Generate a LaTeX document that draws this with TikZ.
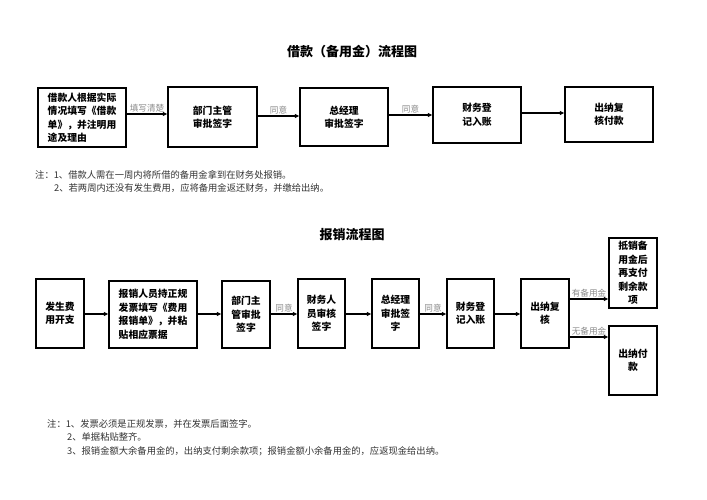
\documentclass[tikz,border=0pt]{standalone}
\usepackage{fontspec}
\setmainfont{Noto Sans CJK SC}
\newfontfamily\cjk{Noto Sans CJK SC}
\usetikzlibrary{arrows.meta}
\tikzset{
  box/.style={draw=black, line width=1.5pt, align=center, inner sep=1pt,
    font=\cjk\bfseries\fontsize{9.8}{13.5}\selectfont},
  arr/.style={line width=1.1pt, -{Triangle[length=4.5pt,width=4pt]}},
  lbl/.style={anchor=south, inner sep=1pt, text=black!45, font=\cjk\fontsize{8.6}{10}\selectfont},
  ttl/.style={font=\cjk\bfseries\fontsize{13}{15}\selectfont},
  note/.style={anchor=west, inner sep=0pt, text=black!80, font=\cjk\fontsize{9.3}{11}\selectfont}
}
\begin{document}
\begin{tikzpicture}[x=1pt,y=-1pt]
\useasboundingbox[fill=white] (0,0) rectangle (707,500);
% ---- title 1
\node[ttl] (t1) at (352,52) {借款（备用金）流程图};
% ---- top row
\node[box, minimum width=88pt, minimum height=59pt, align=left] (T1) at (82,117.5) {借款人根据实际\\情况填写《借款\\单》，并注明用\\途及理由};
\node[box, minimum width=89pt, minimum height=60pt] (T2) at (212.5,117) {部门主管\\审批签字};
\node[box, minimum width=88pt, minimum height=58pt] (T3) at (344,117) {总经理\\审批签字};
\node[box, minimum width=88pt, minimum height=56pt] (T4) at (477,115) {财务登\\记入账};
\node[box, minimum width=88pt, minimum height=55pt] (T5) at (609,114.5) {出纳复\\核付款};
\draw[arr] (T1.east |- 0,114) -- node[lbl]{填写清楚} (T2.west |- 0,114);
\draw[arr] (T2.east |- 0,116) -- node[lbl]{同意} (T3.west |- 0,116);
\draw[arr] (T3.east |- 0,115) -- node[lbl]{同意} (T4.west |- 0,115);
\draw[arr] (T4.east |- 0,113) -- (T5.west |- 0,113);
% ---- notes 1
\node[note] (n11) at (35,175) {注：1、借款人需在一周内将所借的备用金拿到在财务处报销。};
\node[note] (n12) at (54,188) {2、若两周内还没有发生费用，应将备用金返还财务，并缴给出纳。};
% ---- title 2
\node[ttl] (t2) at (352,235) {报销流程图};
% ---- bottom row
\node[box, minimum width=48pt, minimum height=69pt] (B1) at (60,313.5) {发生费\\用开支};
\node[box, minimum width=88pt, minimum height=67pt, align=left] (B2) at (153,314.5) {报销人员持正规\\发票填写《费用\\报销单》，并粘\\贴相应票据};
\node[box, minimum width=48pt, minimum height=67pt] (B3) at (246,314.5) {部门主\\管审批\\签字};
\node[box, minimum width=47pt, minimum height=69pt] (B4) at (321.5,313.5) {财务人\\员审核\\签字};
\node[box, minimum width=47pt, minimum height=69pt] (B5) at (395.5,313.5) {总经理\\审批签\\字};
\node[box, minimum width=47pt, minimum height=69pt] (B6) at (470.5,313.5) {财务登\\记入账};
\node[box, minimum width=48pt, minimum height=69pt] (B7) at (545,313.5) {出纳复\\核};
\node[box, minimum width=48pt, minimum height=70pt] (B8) at (633,273) {抵销备\\用金后\\再支付\\剩余款\\项};
\node[box, minimum width=48pt, minimum height=69pt] (B9) at (633,360.5) {出纳付\\款};
\draw[arr] (B1.east |- 0,314) -- (B2.west |- 0,314);
\draw[arr] (B2.east |- 0,314) -- (B3.west |- 0,314);
\draw[arr] (B3.east |- 0,314) -- node[lbl]{同意} (B4.west |- 0,314);
\draw[arr] (B4.east |- 0,314) -- (B5.west |- 0,314);
\draw[arr] (B5.east |- 0,314) -- node[lbl]{同意} (B6.west |- 0,314);
\draw[arr] (B6.east |- 0,314) -- (B7.west |- 0,314);
\draw[arr] (B7.east |- 0,299) -- node[lbl]{有备用金} (B8.west |- 0,299);
\draw[arr] (B7.east |- 0,337) -- node[lbl]{无备用金} (B9.west |- 0,337);
% ---- notes 2
\node[note] (n21) at (47,424) {注：1、发票必须是正规发票，并在发票后面签字。};
\node[note] (n22) at (67,437) {2、单据粘贴整齐。};
\node[note] (n23) at (67,451) {3、报销金额大余备用金的，出纳支付剩余款项；报销金额小余备用金的，应返现金给出纳。};
\end{tikzpicture}
\end{document}
